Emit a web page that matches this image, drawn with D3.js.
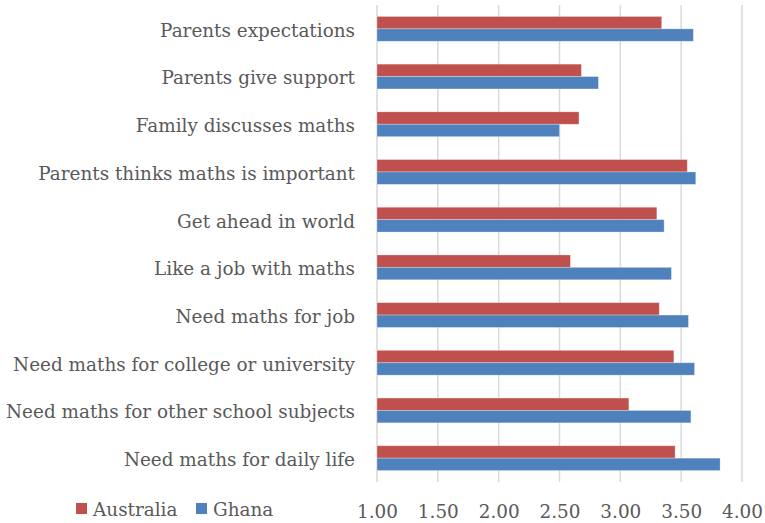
<!DOCTYPE html>
<html>
<head>
<meta charset="utf-8">
<script src="https://cdn.jsdelivr.net/npm/d3@7"></script>
<style>
  html, body { margin: 0; padding: 0; background: #fff; }
  svg { display: block; }
  text { font-family: "DejaVu Serif", "Liberation Serif", serif; fill: #595959; }
</style>
</head>
<body>
<svg id="chart" width="765" height="523"></svg>
<script>
// Mean ratings per statement, listed top to bottom
const categories = [
  "Parents expectations",
  "Parents give support",
  "Family discusses maths",
  "Parents thinks maths is important",
  "Get ahead in world",
  "Like a job with maths",
  "Need maths for job",
  "Need maths for college or university",
  "Need maths for other school subjects",
  "Need maths for daily life"
];
const australia = [3.34, 2.68, 2.66, 3.55, 3.30, 2.59, 3.32, 3.44, 3.07, 3.45];
const ghana     = [3.60, 2.82, 2.50, 3.62, 3.36, 3.42, 3.56, 3.61, 3.58, 3.82];
const seriesNames = ["Australia", "Ghana"];
const seriesColors = ["#C0504D", "#4F81BD"];
const tickValues = [1.00, 1.50, 2.00, 2.50, 3.00, 3.50, 4.00];

const svg = d3.select("#chart");
const plot = { left: 377, right: 742, top: 5, bottom: 482 };
const FONT = "'DejaVu Serif', 'Liberation Serif', serif";

// Pick a label size so the longest category label spans about 342px
const probe = svg.append("text").style("font-family", FONT).style("font-size", "20px")
  .text("Need maths for college or university");
const fontSize = 20 * 342 / probe.node().getComputedTextLength();
probe.remove();
const fs = fontSize.toFixed(2) + "px";

const x = d3.scaleLinear().domain([1, 4]).range([plot.left, plot.right]);
const y = d3.scaleBand().domain(categories).range([plot.top, plot.bottom])
  .paddingInner(0.48).paddingOuter(0.24);
const ySeries = d3.scaleBand().domain(seriesNames).range([0, y.bandwidth()]);

// Vertical gridlines
svg.append("g")
  .selectAll("line")
  .data(tickValues)
  .join("line")
  .attr("x1", d => x(d)).attr("x2", d => x(d))
  .attr("y1", plot.top).attr("y2", plot.bottom)
  .attr("stroke", "#D9D9D9").attr("stroke-width", 1.5);

// Bars
const rows = categories.map((c, i) => ({ c, vals: [australia[i], ghana[i]] }));
const groups = svg.append("g")
  .selectAll("g")
  .data(rows)
  .join("g")
  .attr("transform", d => `translate(0,${y(d.c)})`);

groups.selectAll("rect")
  .data(d => d.vals.map((v, j) => ({ v, s: seriesNames[j], color: seriesColors[j] })))
  .join("rect")
  .attr("x", x(1))
  .attr("y", d => ySeries(d.s))
  .attr("width", d => x(d.v) - x(1))
  .attr("height", ySeries.bandwidth())
  .attr("fill", d => d.color)
  .attr("stroke", "rgba(255,255,255,0.35)")
  .attr("stroke-width", 0.8);

// Category labels
const yAxis = d3.axisLeft(y).tickSize(0).tickPadding(22);
const gy = svg.append("g").attr("transform", `translate(${plot.left},0)`).call(yAxis);
gy.select(".domain").remove();
gy.selectAll("text").style("font-size", fs).attr("fill", "#595959")
  .style("font-family", FONT).attr("y", 2);

// Value axis labels
const xAxis = d3.axisBottom(x).tickValues(tickValues).tickFormat(d3.format(".2f"))
  .tickSize(0).tickPadding(0);
const gx = svg.append("g").attr("transform", `translate(0,${plot.bottom})`).call(xAxis);
gx.select(".domain").remove();
gx.selectAll("text").attr("dy", null).attr("y", 36).style("font-size", fs)
  .attr("fill", "#595959").style("font-family", FONT);

// Legend
const legend = svg.append("g").attr("transform", "translate(76,503)");
const legendX = [0, 120];
seriesNames.forEach((name, i) => {
  const g = legend.append("g").attr("transform", `translate(${legendX[i]},0)`);
  g.append("rect").attr("width", 11).attr("height", 11).attr("fill", seriesColors[i]);
  g.append("text").attr("x", 17).attr("y", 13).style("font-size", fs)
    .style("font-family", FONT).text(name);
});
</script>
</body>
</html>
